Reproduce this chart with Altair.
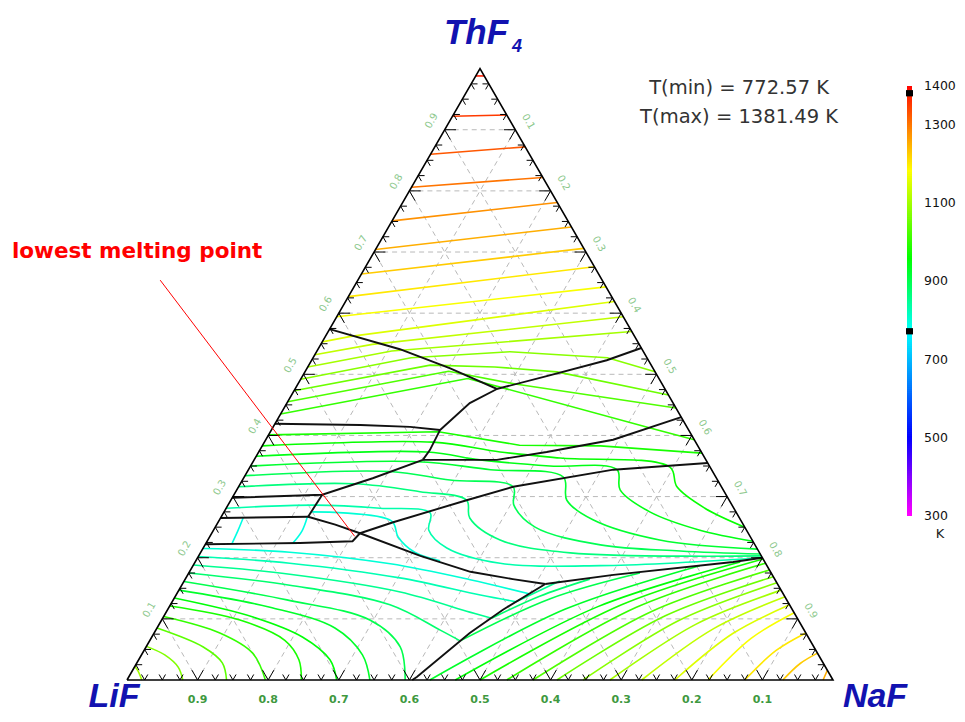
import altair as alt
import pandas as pd

# ---------------------------------------------------------------------------
# Data: liquidus isotherms of LiF-NaF-ThF4.
# Each point is (ThF4 mole fraction, NaF mole fraction); LiF = 1 - ThF4 - NaF.
# ---------------------------------------------------------------------------
TMIN = 772.57
TMAX = 1381.49

THF4_FIELD = [
    (1375, [(0.988, 0.000), (0.988, 0.012)]),
    (1350, [(0.922, 0.000), (0.924, 0.076)]),
    (1325, [(0.860, 0.000), (0.872, 0.128)]),
    (1300, [(0.806, 0.000), (0.822, 0.178)]),
    (1275, [(0.751, 0.000), (0.781, 0.219)]),
    (1250, [(0.704, 0.000), (0.741, 0.259)]),
    (1225, [(0.664, 0.000), (0.706, 0.294)]),
    (1200, [(0.627, 0.000), (0.676, 0.324)]),
    (1175, [(0.594, 0.000), (0.643, 0.357)]),
]

UPPER_MID = [
    (1150, [(0.553, 0.000), (0.562, 0.036), (0.619, 0.381)]),
    (1125, [(0.532, 0.000), (0.549, 0.073), (0.594, 0.406)]),
    (1100, [(0.512, 0.000), (0.538, 0.106), (0.570, 0.430)]),
    (1075, [(0.492, 0.000), (0.527, 0.139), (0.537, 0.274), (0.527, 0.417), (0.504, 0.496)]),
    (1050, [(0.473, 0.000), (0.515, 0.172), (0.512, 0.265), (0.504, 0.357), (0.466, 0.534)]),
    (1025, [(0.455, 0.000), (0.505, 0.203), (0.484, 0.308), (0.445, 0.555)]),
    (1000, [(0.435, 0.000), (0.493, 0.236), (0.479, 0.289), (0.412, 0.535), (0.393, 0.607)]),
    (975, [(0.401, 0.000), (0.406, 0.238), (0.384, 0.364), (0.383, 0.479), (0.371, 0.629)]),
]

LOWER_MID = [
    (960, [(0.383, 0.000), (0.389, 0.239), (0.373, 0.342), (0.363, 0.432), (0.348, 0.595),
           (0.316, 0.621), (0.281, 0.678), (0.250, 0.750)]),
    (940, [(0.366, 0.000), (0.373, 0.238), (0.360, 0.320), (0.350, 0.424), (0.344, 0.522),
           (0.311, 0.543), (0.275, 0.603), (0.245, 0.689), (0.227, 0.773)]),
    (920, [(0.350, 0.000), (0.357, 0.233), (0.344, 0.343), (0.332, 0.452), (0.294, 0.476),
           (0.262, 0.529), (0.229, 0.640), (0.214, 0.786)]),
    (895, [(0.334, 0.000), (0.341, 0.202), (0.327, 0.294), (0.316, 0.389), (0.286, 0.405),
           (0.250, 0.453), (0.221, 0.560), (0.211, 0.678), (0.206, 0.794)]),
    (865, [(0.316, 0.000), (0.321, 0.162), (0.308, 0.261), (0.294, 0.334), (0.265, 0.353),
           (0.229, 0.414), (0.208, 0.524), (0.203, 0.797)]),
    (830, [(0.281, 0.000), (0.286, 0.124), (0.281, 0.218), (0.273, 0.293), (0.245, 0.305),
           (0.216, 0.345), (0.191, 0.433), (0.187, 0.577), (0.200, 0.800)]),
    (800, [(0.275, 0.125), (0.260, 0.245), (0.234, 0.267), (0.209, 0.303), (0.195, 0.346)]),
    (790, [(0.265, 0.032), (0.244, 0.035), (0.224, 0.037)]),
    (790, [(0.267, 0.122), (0.244, 0.126), (0.224, 0.123)]),
]

LIF_FIELD = [
    (800, [(0.215, 0.000), (0.209, 0.126), (0.190, 0.278), (0.164, 0.404), (0.141, 0.499)]),
    (825, [(0.202, 0.000), (0.191, 0.135), (0.167, 0.303), (0.139, 0.431), (0.128, 0.487)]),
    (850, [(0.188, 0.000), (0.173, 0.144), (0.144, 0.315), (0.111, 0.430), (0.101, 0.466)]),
    (875, [(0.175, 0.000), (0.155, 0.153), (0.123, 0.311), (0.082, 0.402), (0.064, 0.440)]),
    (900, [(0.161, 0.000), (0.131, 0.161), (0.098, 0.295), (0.054, 0.360), (0.000, 0.394)]),
    (925, [(0.147, 0.000), (0.119, 0.143), (0.085, 0.252), (0.041, 0.313), (0.000, 0.344)]),
    (950, [(0.134, 0.000), (0.103, 0.127), (0.070, 0.214), (0.033, 0.271), (0.000, 0.297)]),
    (975, [(0.121, 0.000), (0.098, 0.111), (0.065, 0.191), (0.033, 0.227), (0.000, 0.247)]),
    (1000, [(0.104, 0.000), (0.077, 0.093), (0.044, 0.156), (0.000, 0.196)]),
    (1035, [(0.085, 0.000), (0.054, 0.081), (0.028, 0.121), (0.000, 0.141)]),
    (1070, [(0.055, 0.000), (0.041, 0.033), (0.021, 0.062), (0.000, 0.079)]),
    (1100, [(0.022, 0.000), (0.015, 0.008), (0.000, 0.021)]),
]

NAF_FIELD = [
    (1250, [(0.016, 0.984), (0.000, 0.986)]),
    (1225, [(0.044, 0.956), (0.027, 0.940), (0.000, 0.929)]),
    (1200, [(0.077, 0.923), (0.048, 0.895), (0.000, 0.875)]),
    (1175, [(0.110, 0.890), (0.068, 0.850), (0.000, 0.823)]),
    (1150, [(0.123, 0.877), (0.076, 0.820), (0.000, 0.776)]),
    (1125, [(0.136, 0.864), (0.084, 0.789), (0.000, 0.729)]),
    (1100, [(0.147, 0.853), (0.091, 0.760), (0.000, 0.684)]),
    (1075, [(0.159, 0.841), (0.098, 0.734), (0.000, 0.646)]),
    (1050, [(0.169, 0.831), (0.105, 0.710), (0.000, 0.609)]),
    (1025, [(0.180, 0.820), (0.112, 0.687), (0.000, 0.575)]),
    (1000, [(0.191, 0.809), (0.119, 0.662), (0.000, 0.538)]),
    (975, [(0.198, 0.802), (0.123, 0.639), (0.000, 0.500)]),
    (950, [(0.193, 0.772), (0.120, 0.607), (0.000, 0.465)]),
    (925, [(0.187, 0.718), (0.116, 0.563), (0.000, 0.429)]),
    (900, [(0.175, 0.639), (0.133, 0.533), (0.064, 0.440)]),
    (875, [(0.165, 0.573), (0.137, 0.516), (0.101, 0.466)]),
    (850, [(0.162, 0.532), (0.128, 0.487)]),
]

# phase-field boundaries (black lines)
BOUNDARIES = [
    [(0.574, 0.000), (0.541, 0.116), (0.510, 0.202), (0.476, 0.286), (0.497, 0.346), (0.523, 0.418), (0.543, 0.457)],
    [(0.419, 0.000), (0.417, 0.122), (0.414, 0.194), (0.409, 0.239)],
    [(0.476, 0.286), (0.453, 0.259), (0.409, 0.239)],
    [(0.409, 0.239), (0.376, 0.241), (0.360, 0.239)],
    [(0.360, 0.239), (0.360, 0.344), (0.373, 0.408), (0.393, 0.492), (0.430, 0.570)],
    [(0.298, 0.000), (0.303, 0.125), (0.330, 0.183), (0.360, 0.239)],
    [(0.303, 0.125), (0.267, 0.123)],
    [(0.265, 0.000), (0.267, 0.123)],
    [(0.267, 0.123), (0.254, 0.168), (0.240, 0.210)],
    [(0.222, 0.000), (0.224, 0.133), (0.227, 0.206), (0.240, 0.210)],
    [(0.240, 0.210), (0.258, 0.248), (0.294, 0.334), (0.316, 0.389), (0.344, 0.517), (0.355, 0.645)],
    [(0.240, 0.210), (0.203, 0.314), (0.177, 0.398), (0.165, 0.464), (0.157, 0.514)],
    [(0.157, 0.514), (0.172, 0.603), (0.193, 0.762), (0.200, 0.800)],
    [(0.157, 0.514), (0.115, 0.475), (0.077, 0.447), (0.005, 0.408), (0.000, 0.404)],
]

EUTECTIC = (0.235, 0.205)          # ThF4, NaF of the lowest melting point
GRID_VALUES = [0.1, 0.2, 0.3, 0.4, 0.5, 0.6, 0.7, 0.8, 0.9]
TICK_LABELS = ["0.1", "0.2", "0.3", "0.4", "0.5", "0.6", "0.7", "0.8", "0.9"]
BAR_LABELS = [300, 500, 700, 900, 1100, 1300, 1400]
BAR_RANGE = [300, 1400]
COLOR_STOPS = [300, 500, 770, 955, 1180, 1400]
COLOR_RANGE = ["#ff00ff", "#0000ff", "#00ffff", "#00ff00", "#ffff00", "#ff0000"]

# ---------------------------------------------------------------------------
W, H = 949, 706
xs = alt.Scale(domain=[0, 1], range=[119, 825])
ys = alt.Scale(domain=[0, 1], range=[672, 60.6])
cbs = alt.Scale(domain=BAR_RANGE, range=[508, 78])     # colour-bar scale
color_scale = alt.Scale(domain=COLOR_STOPS, range=COLOR_RANGE, interpolate="rgb")


def cart(thf4, naf):
    return naf + thf4 / 2.0, thf4


def iso_frame(groups, prefix):
    rows = []
    for i, (temp, pts) in enumerate(groups):
        for k, (a, b) in enumerate(pts):
            X, Y = cart(a, b)
            rows.append({"id": f"{prefix}{i}", "k": k, "T": temp, "X": X, "Y": Y})
    return pd.DataFrame(rows)


straight = pd.concat([iso_frame(THF4_FIELD, "a"), iso_frame(UPPER_MID, "b")])
curved = pd.concat([iso_frame(LOWER_MID, "c"), iso_frame(LIF_FIELD, "d"), iso_frame(NAF_FIELD, "e")])

brows = []
for i, pts in enumerate(BOUNDARIES):
    for k, (a, b) in enumerate(pts):
        X, Y = cart(a, b)
        brows.append({"id": f"L{i}", "k": k, "X": X, "Y": Y})
bound = pd.DataFrame(brows)

grows = []
for v in GRID_VALUES:
    for p, q in [((v, 0.0), (v, 1 - v)), ((0.0, v), (1 - v, v)), ((0.0, 1 - v), (1 - v, 0.0))]:
        x1, y1 = cart(*p)
        x2, y2 = cart(*q)
        grows.append({"x1": x1, "y1": y1, "x2": x2, "y2": y2})
grid = pd.DataFrame(grows)

edge = pd.DataFrame([{"k": i, "X": cart(*p)[0], "Y": cart(*p)[1]}
                     for i, p in enumerate([(0, 0), (0, 1), (1, 0), (0, 0)])])

trows = []
for i in range(1, 40):
    f = i * 0.025
    L = 0.016 if i % 4 == 0 else 0.009
    trows += [{"x1": f, "y1": 0, "x2": f + L / 2, "y2": L},
              {"x1": f, "y1": 0, "x2": f - L / 2, "y2": L}]
    trows += [{"x1": f / 2, "y1": f, "x2": f / 2 + L, "y2": f},
              {"x1": f / 2, "y1": f, "x2": f / 2 + L / 2, "y2": f - L}]
    trows += [{"x1": 1 - f / 2, "y1": f, "x2": 1 - f / 2 - L, "y2": f},
              {"x1": 1 - f / 2, "y1": f, "x2": 1 - f / 2 - L / 2, "y2": f - L}]
ticks = pd.DataFrame(trows)

bottom_lab = pd.DataFrame({"X": [1 - v for v in GRID_VALUES], "Y": [0.0] * 9, "lab": TICK_LABELS})
left_lab = pd.DataFrame({"X": [v / 2 - 0.0184 for v in GRID_VALUES],
                         "Y": [v + 0.0147 for v in GRID_VALUES], "lab": TICK_LABELS})
right_lab = pd.DataFrame({"X": [1 - (1 - v) / 2 + 0.0184 for v in GRID_VALUES],
                          "Y": [(1 - v) + 0.0131 for v in GRID_VALUES], "lab": TICK_LABELS})

enc_xy = dict(x=alt.X("X:Q", scale=xs, axis=None), y=alt.Y("Y:Q", scale=ys, axis=None))
rule_xy = dict(x=alt.X("x1:Q", scale=xs, axis=None), y=alt.Y("y1:Q", scale=ys, axis=None),
               x2="x2:Q", y2="y2:Q")

grid_layer = alt.Chart(grid).mark_rule(color="#b9b9b9", strokeWidth=1, strokeDash=[5, 4]).encode(**rule_xy)

iso_straight = alt.Chart(straight).mark_line(strokeWidth=1.6).encode(
    **enc_xy, detail="id:N", order="k:Q",
    color=alt.Color("T:Q", scale=color_scale, legend=None))

iso_curved = alt.Chart(curved).mark_line(strokeWidth=1.6, interpolate="catmull-rom").encode(
    **enc_xy, detail="id:N", order="k:Q",
    color=alt.Color("T:Q", scale=color_scale, legend=None))

bound_layer = alt.Chart(bound).mark_line(color="#111111", strokeWidth=1.9).encode(
    **enc_xy, detail="id:N", order="k:Q")

edge_layer = alt.Chart(edge).mark_line(color="black", strokeWidth=1.6).encode(**enc_xy, order="k:Q")
tick_layer = alt.Chart(ticks).mark_rule(color="black", strokeWidth=1).encode(**rule_xy)

bottom_text = alt.Chart(bottom_lab).mark_text(dy=20, fontSize=11, fontWeight="bold",
                                              color="#3f993f", font="DejaVu Sans").encode(
    **enc_xy, text="lab:N")
left_text = alt.Chart(left_lab).mark_text(angle=300, fontSize=10, color="#8cc88c",
                                          font="DejaVu Sans").encode(**enc_xy, text="lab:N")
right_text = alt.Chart(right_lab).mark_text(angle=60, fontSize=10, color="#8cc88c",
                                            font="DejaVu Sans").encode(**enc_xy, text="lab:N")

corner = pd.DataFrame({"X": [0.5, 0.5, 0.0, 1.0], "Y": [1.0, 1.0, 0.0, 0.0],
                       "lab": ["ThF", "4", "LiF", "NaF"]})
corner_layers = []
for lab, dx, dy, size, base in [("ThF", -4, -36, 35, "middle"), ("4", 37, -22, 18, "middle"),
                                ("LiF", -13, 26.5, 34, "alphabetic"), ("NaF", 42, 26.5, 34, "alphabetic")]:
    corner_layers.append(
        alt.Chart(corner[corner.lab == lab]).mark_text(
            fontSize=size, fontWeight="bold", fontStyle="italic", color="#1212b0",
            font="Liberation Sans", baseline=base, dx=dx, dy=dy).encode(**enc_xy, text="lab:N"))

ex, ey = cart(*EUTECTIC)
annot_line = alt.Chart(pd.DataFrame({"k": [0, 1], "X": [0.047, ex], "Y": [0.654, ey]})).mark_line(
    color="#ff0000", strokeWidth=1).encode(**enc_xy, order="k:Q")
annot_text = alt.Chart(pd.DataFrame({"X": [-0.163], "Y": [0.700], "lab": ["lowest melting point"]})).mark_text(
    align="left", baseline="middle", fontSize=21.5, fontWeight="bold", color="#ff0000",
    font="DejaVu Sans").encode(**enc_xy, text="lab:N")

tt = pd.DataFrame({"X": [0.867, 0.867], "Y": [0.968, 0.921],
                   "lab": [f"T(min) = {TMIN:.2f} K", f"T(max) = {TMAX:.2f} K"]})
t_text = alt.Chart(tt).mark_text(fontSize=19.5, color="#333333", font="DejaVu Sans",
                                 baseline="middle").encode(**enc_xy, text="lab:N")

# ---- colour bar drawn as marks, so that the Tmin / Tmax markers sit on top
step = 5
bar = pd.DataFrame({"T": list(range(BAR_RANGE[0], BAR_RANGE[1], step))})
bar["lo"] = bar["T"]
bar["hi"] = (bar["T"] + step + 2).clip(upper=BAR_RANGE[1])
bar_layer = alt.Chart(bar).mark_rect(strokeWidth=0).encode(
    x=alt.value(899), x2=alt.value(904),
    y=alt.Y("lo:Q", scale=cbs, axis=None), y2="hi:Q",
    color=alt.Color("T:Q", scale=color_scale, legend=None))

mk = pd.DataFrame({"T": [TMIN, TMAX]})
mk["lo"] = mk["T"] - 8
mk["hi"] = mk["T"] + 8
mark_layer = alt.Chart(mk).mark_rect(color="black").encode(
    x=alt.value(898), x2=alt.value(905),
    y=alt.Y("lo:Q", scale=cbs, axis=None), y2="hi:Q")

bar_text = alt.Chart(pd.DataFrame({"T": BAR_LABELS, "lab": [str(v) for v in BAR_LABELS]})).mark_text(
    align="left", baseline="middle", fontSize=12.5, color="#111111", font="DejaVu Sans").encode(
    x=alt.value(916), y=alt.Y("T:Q", scale=cbs, axis=None), text="lab:N")

k_text = alt.Chart(pd.DataFrame({"lab": ["K"]})).mark_text(fontSize=13, color="#222222",
                                                           font="DejaVu Sans").encode(
    x=alt.value(932), y=alt.value(526), text="lab:N")

chart = alt.layer(
    grid_layer, iso_straight, iso_curved, bound_layer, edge_layer, tick_layer,
    bottom_text, left_text, right_text, *corner_layers, annot_line, annot_text, t_text,
    bar_layer, mark_layer, bar_text, k_text
).resolve_scale(
    x="independent", y="independent"
).properties(
    width=W, height=H, padding=0, autosize=alt.AutoSizeParams(type="none"),
    background="white"
).configure_view(strokeWidth=0)

chart.save("out.html", embed_options={"renderer": "svg", "actions": False})
